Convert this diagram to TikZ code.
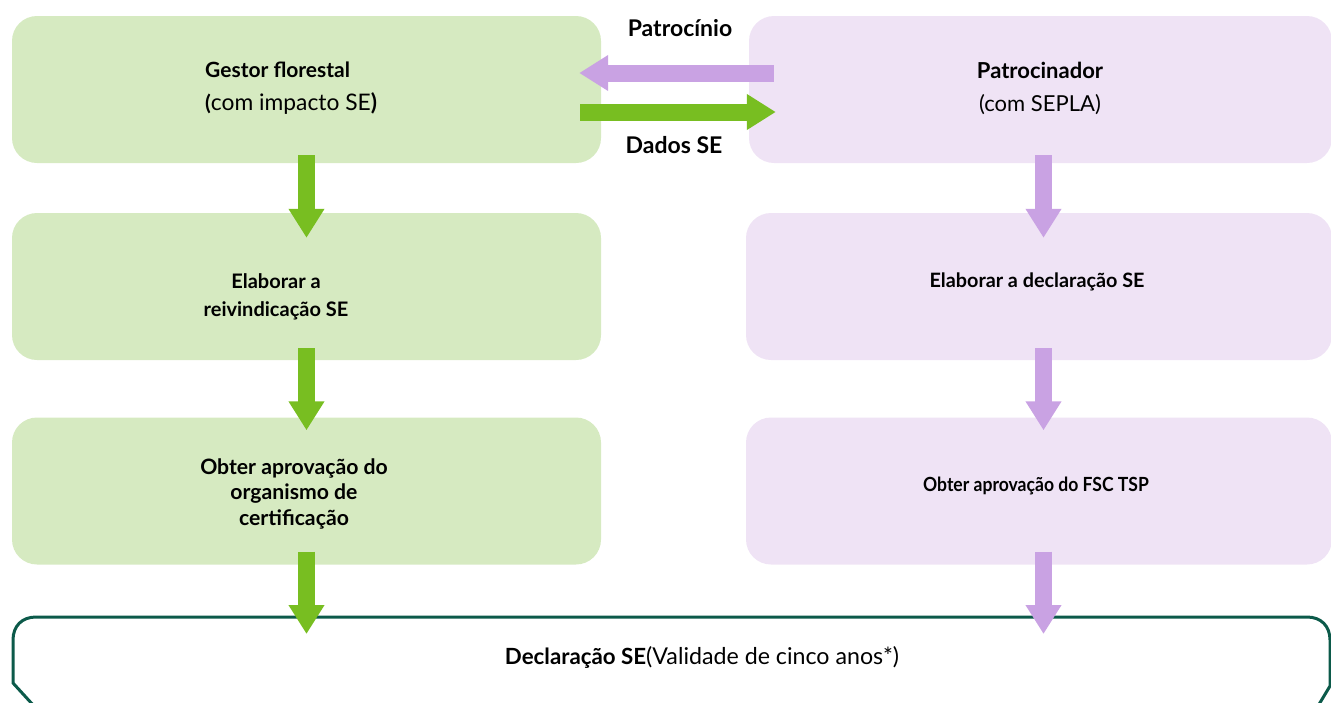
\documentclass[tikz,border=0pt]{standalone}
\usepackage{fontspec}
\setmainfont{Lato}
\newfontfamily\condfont[FakeStretch=0.9]{Lato}
\usetikzlibrary{arrows.meta,calc}
\definecolor{gfill}{HTML}{D6EAC1}
\definecolor{pfill}{HTML}{EFE3F5}
\definecolor{garrow}{HTML}{78BE21}
\definecolor{parrow}{HTML}{C9A2E3}
\definecolor{dborder}{HTML}{0C5A4A}
\tikzset{
  gbox/.style={rectangle, rounded corners=25pt, fill=gfill, minimum width=589pt, minimum height=147pt, inner sep=0pt},
  pbox/.style={rectangle, rounded corners=25pt, fill=pfill, minimum width=586pt, minimum height=147pt, inner sep=0pt},
  blockarrow/.style={line width=17pt, -{Triangle[width=34pt,length=29pt]}},
  garr/.style={blockarrow, draw=garrow, color=garrow},
  parr/.style={blockarrow, draw=parrow, color=parrow},
  lbl/.style={inner sep=0pt, font=\bfseries\fontsize{21}{33}\selectfont},
}
\begin{document}
\begin{tikzpicture}[x=1pt,y=-1pt]
\useasboundingbox (0,0) rectangle (1331,702);
% boxes
\node[gbox] (g1) at (306.5,89.5) {};
\node[pbox, minimum width=583pt] (p1) at (1040.5,89.5) {};
\node[gbox] (g2) at (306.5,286.5) {};
\node[pbox] (p2) at (1039,286.5) {};
\node[gbox] (g3) at (306.5,491) {};
\node[pbox] (p3) at (1039,491) {};
% bottom box
\draw[dborder, line width=3pt] (34,706) -- (13,683) -- (13,640)
  .. controls (13,626) and (22,617) .. (36,617) -- (1307,617)
  .. controls (1321,617) and (1330,626) .. (1330,640) -- (1330,686) -- (1318,706);
\coordinate (dtop) at (0,617);
% texts
\node[lbl, anchor=west, align=left] (g1t) at (205,88) {Gestor florestal\\{\bfseries(}\mdseries\fontsize{22.8}{33}\selectfont com impacto SE{\bfseries)}};
\node[lbl, align=center, font=\bfseries\fontsize{22}{33}\selectfont] (p1t) at (1040,88) {Patrocinador\\\mdseries(com SEPLA)};
\node[lbl, align=center, font=\bfseries\fontsize{20}{28}\selectfont] (g2t) at (276,297) {Elaborar a\\reivindicação SE};
\node[lbl, font=\bfseries\fontsize{19.8}{28}\selectfont] (p2t) at (1037,282) {Elaborar a declaração SE};
\node[lbl, align=center, font=\bfseries\fontsize{21.2}{25.5}\selectfont] (g3t) at (294,494) {Obter aprovação do\\organismo de\\certificação};
\node[lbl, font=\condfont\bfseries\fontsize{19.5}{25}\selectfont] (p3t) at (1036,486) {Obter aprovação do FSC TSP};
\node[lbl, font=\fontsize{22.3}{25}\selectfont] (dt) at (702,657) {\bfseries Declaração SE\mdseries\fontsize{23.2}{25}\selectfont(Validade de cinco anos*)};
\node[lbl, font=\bfseries\fontsize{23}{28}\selectfont] (pat) at (680,28) {Patrocínio};
\node[lbl, font=\bfseries\fontsize{23}{28}\selectfont] (dad) at (674,145) {Dados SE};
% horizontal arrows
\draw[parr] ([xshift=25pt,yshift=16.5pt]p1.west) -- ([xshift=-22pt,yshift=16.5pt]g1.east);
\draw[garr] ([xshift=-21pt,yshift=-22.5pt]g1.east) -- ([xshift=27pt,yshift=-22.5pt]p1.west);
% vertical arrows green
\draw[garr] ([yshift=8pt]g1.south) -- ([yshift=-25pt]g2.north);
\draw[garr] ([yshift=12pt]g2.south) -- ([yshift=-13pt]g3.north);
\draw[garr] ([yshift=13pt]g3.south) -- ([yshift=-17pt]g3.south |- dtop);
% vertical arrows purple
\draw[parr] ([xshift=3pt,yshift=8pt]p1.south) -- ([xshift=4.5pt,yshift=-25pt]p2.north);
\draw[parr] ([xshift=4.5pt,yshift=12pt]p2.south) -- ([xshift=4.5pt,yshift=-13pt]p3.north);
\draw[parr] ([xshift=4.5pt,yshift=13pt]p3.south) -- ([xshift=4.5pt,yshift=-17pt]p3.south |- dtop);
\end{tikzpicture}
\end{document}
